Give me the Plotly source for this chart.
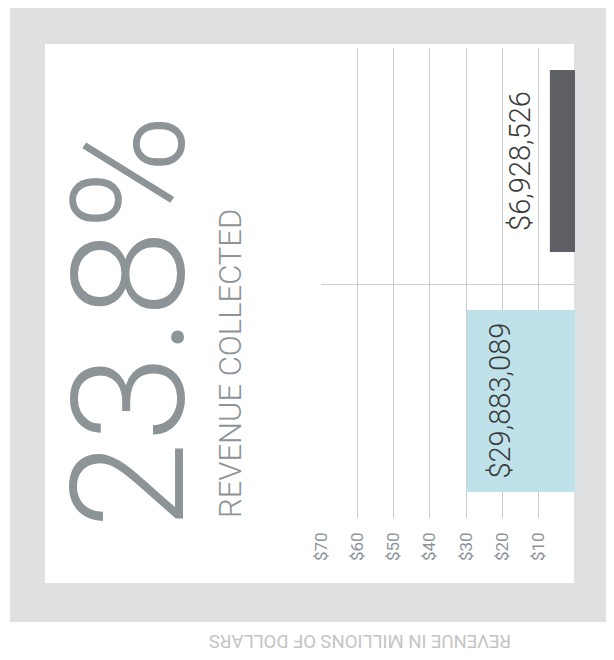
import plotly.graph_objects as go

# ---- data ----
categories = [0, 1]                      # bottom band, top band
bar_values = [29.883089, 6.928526]       # revenue in millions of dollars
bar_labels = ["$29,883,089", "$6,928,526"]
bar_colors = ["#bfe1e9", "#5f6065"]
tick_values = [10, 20, 30, 40, 50, 60, 70]
tick_labels = ["$10", "$20", "$30", "$40", "$50", "$60", "$70"]
headline = "23.8%"
headline_sub = "REVENUE COLLECTED"
axis_caption = "REVENUE IN MILLIONS OF DOLLARS"

OFF = 8                                   # page body margin
W, H = 614 - OFF, 660 - OFF
L, R, T, B = 321 - OFF, 575 - OFF, 48 - OFF, 518 - OFF   # plot area (figure px)

def px(x):   # screen pixel -> paper x
    return (x - OFF - L) / (R - L)

def py(y):   # screen pixel -> paper y
    return (B - (y - OFF)) / (B - T)

FONT = "Roboto, 'Liberation Sans', Arial, sans-serif"
GRAY = "#8c9498"

fig = go.Figure()
fig.add_trace(go.Bar(
    x=bar_values, y=categories, orientation="h",
    marker=dict(color=bar_colors, line=dict(width=0)),
    width=0.758, hoverinfo="skip",
))

annotations = []
shifts = [33, -30]
for v, c, lab, s in zip(bar_values, categories, bar_labels, shifts):
    annotations.append(dict(
        x=v, y=c, xref="x", yref="y", text=lab, showarrow=False,
        textangle=-90, xanchor="center", yanchor="middle", xshift=s,
        font=dict(family=FONT, size=29, color="#3a3a3a", weight=300),
    ))
annotations.append(dict(
    x=px(129), y=py(322), xref="paper", yref="paper", text=headline,
    showarrow=False, textangle=-90, xanchor="center", yanchor="middle",
    font=dict(family=FONT, size=157, color=GRAY, weight=300),
))
annotations.append(dict(
    x=px(230), y=py(364), xref="paper", yref="paper", text=headline_sub,
    showarrow=False, textangle=-90, xanchor="center", yanchor="middle",
    font=dict(family=FONT, size=31, color=GRAY, weight=300),
))
annotations.append(dict(
    x=px(360), y=py(641), xref="paper", yref="paper", text=axis_caption,
    showarrow=False, textangle=180, xanchor="center", yanchor="middle",
    font=dict(family=FONT, size=18.5, color="#c4c4c4", weight=400),
))

shapes = [
    dict(type="rect", xref="paper", yref="paper", layer="below",
         x0=px(10), x1=px(611), y0=py(4), y1=py(622),
         fillcolor="#dfe0e2", line=dict(width=0)),
    dict(type="rect", xref="paper", yref="paper", layer="below",
         x0=px(45), x1=px(574), y0=py(44), y1=py(583),
         fillcolor="#ffffff", line=dict(width=0)),
]

fig.update_layout(
    width=W, height=H,
    margin=dict(l=L, r=W - R, t=T, b=H - B, pad=0),
    paper_bgcolor="#ffffff", plot_bgcolor="rgba(0,0,0,0)",
    showlegend=False, bargap=0.2,
    annotations=annotations, shapes=shapes,
    xaxis=dict(
        range=[70, 0], tickvals=tick_values, ticktext=tick_labels,
        tickangle=-90, showgrid=True, gridcolor="#c9cdce", gridwidth=1,
        zeroline=False, showline=False, ticks="", ticklabelstandoff=10,
        tickfont=dict(family=FONT, size=17, color=GRAY, weight=400),
        fixedrange=True,
    ),
    yaxis=dict(
        range=[-0.4875, 1.471], tickvals=[0.4875], showticklabels=False,
        showgrid=True, gridcolor="#c9cdce", gridwidth=1, zeroline=False,
        showline=False, ticks="", fixedrange=True,
    ),
)

fig.write_html("out.html")
